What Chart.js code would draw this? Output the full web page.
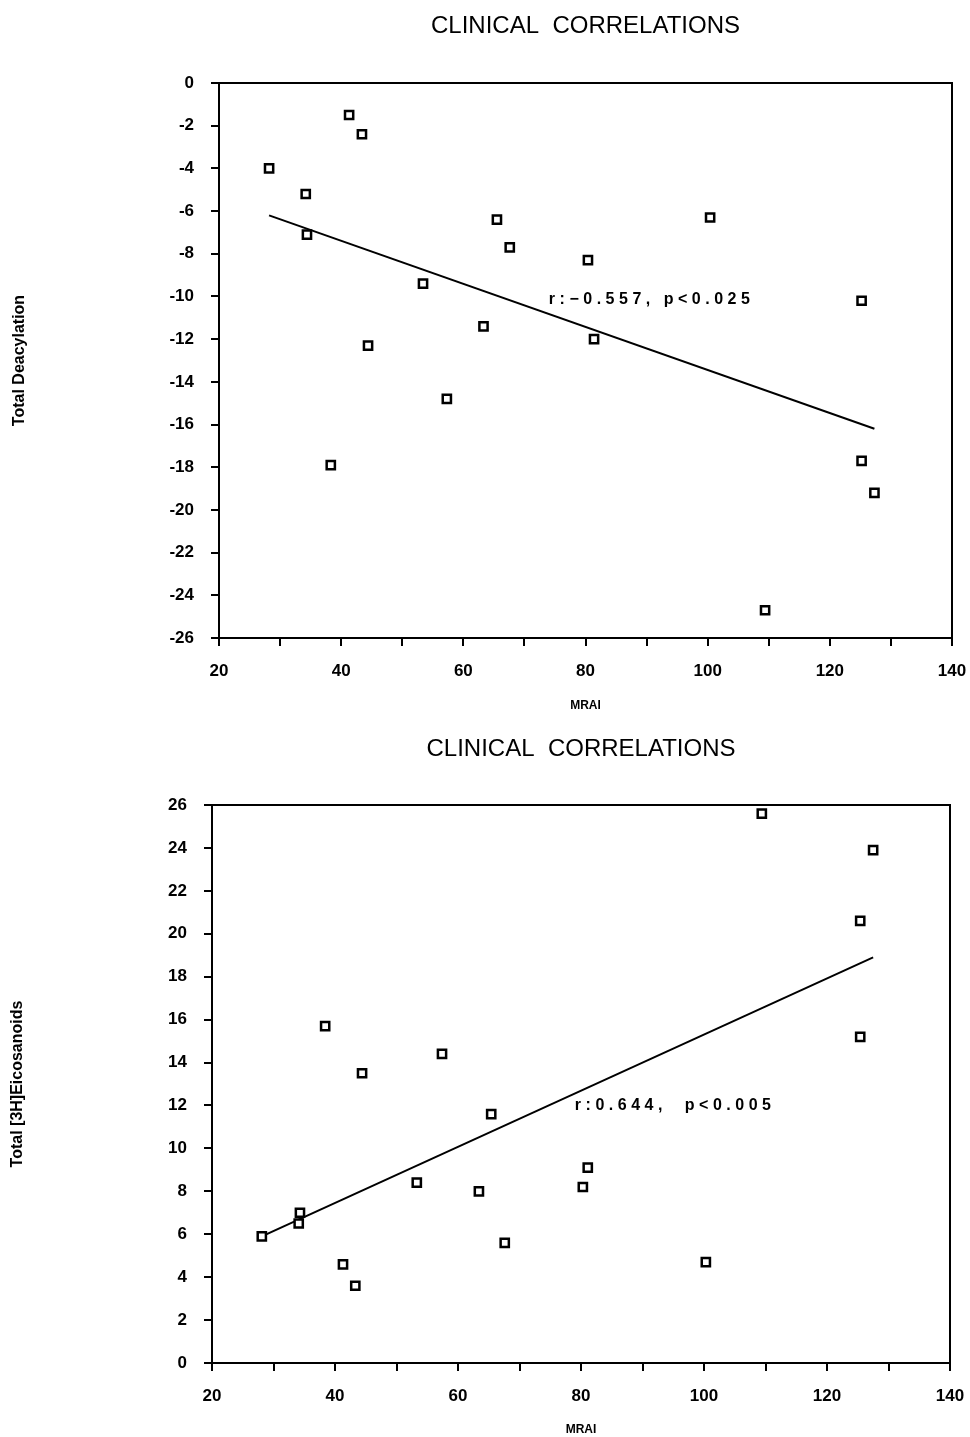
<!DOCTYPE html>
<html>
<head>
<meta charset="utf-8">
<title>Clinical correlations</title>
<script src="https://cdn.jsdelivr.net/npm/chart.js@4/dist/chart.umd.min.js"></script>
<style>
  body { margin: 0; background: #fff; }
  canvas { display: block; }
</style>
</head>
<body>
<canvas id="deac" width="970" height="720"></canvas>
<canvas id="eico" width="970" height="717"></canvas>
<script>
// MRAI vs total deacylation (top panel)
var deacMrai = [28.2, 41.3, 43.4, 34.2, 34.4, 38.3, 53.4, 44.4, 57.3, 63.3, 65.5, 67.6, 80.4, 81.4, 100.4, 125.2, 125.2, 127.3, 109.4];
var deacVals = [-4.0, -1.5, -2.4, -5.2, -7.1, -17.9, -9.4, -12.3, -14.8, -11.4, -6.4, -7.7, -8.3, -12.0, -6.3, -10.2, -17.7, -19.2, -24.7];
var deacFitX = [28.2, 127.3];
var deacFitY = [-6.2, -16.2];

// MRAI vs total [3H]eicosanoids (bottom panel)
var eicoMrai = [28.1, 34.3, 34.1, 38.4, 41.3, 43.3, 44.4, 53.3, 57.4, 63.4, 65.4, 67.6, 80.3, 81.1, 100.3, 109.4, 125.4, 125.4, 127.5];
var eicoVals = [5.9, 7.0, 6.5, 15.7, 4.6, 3.6, 13.5, 8.4, 14.4, 8.0, 11.6, 5.6, 8.2, 9.1, 4.7, 25.6, 20.6, 15.2, 23.9];
var eicoFitX = [28.1, 127.5];
var eicoFitY = [5.9, 18.9];

var xTicks = [20, 40, 60, 80, 100, 120, 140];

var FONT = '"Liberation Sans", Arial, Helvetica, sans-serif';

function toPoints(xs, ys) {
  var out = [];
  for (var i = 0; i < xs.length; i++) out.push({ x: xs[i], y: ys[i] });
  return out;
}

// frame box, panel title and r/p note
var decorPlugin = {
  id: 'decor',
  afterDraw: function(chart, args, opts) {
    var ctx = chart.ctx, a = chart.chartArea;
    ctx.save();
    ctx.strokeStyle = '#000';
    ctx.lineWidth = 2;
    ctx.strokeRect(a.left, a.top, a.right - a.left, a.bottom - a.top);

    ctx.fillStyle = '#000';
    ctx.textBaseline = 'middle';
    ctx.textAlign = 'center';
    ctx.font = '24px ' + FONT;
    ctx.fillText(opts.title, (a.left + a.right) / 2, opts.titleY);

    ctx.textAlign = 'left';
    ctx.font = 'bold 16px ' + FONT;
    ctx.letterSpacing = '4.5px';
    ctx.fillText(opts.note,
      chart.scales.x.getPixelForValue(opts.noteAt[0]),
      chart.scales.y.getPixelForValue(opts.noteAt[1]));
    ctx.restore();
  }
};

function buildChart(id, c) {
  var ctx = document.getElementById(id).getContext('2d');
  return new Chart(ctx, {
    type: 'scatter',
    data: {
      datasets: [
        {
          data: toPoints(c.xs, c.ys),
          pointStyle: 'rect',
          pointRadius: 5.8,
          pointBorderWidth: 2.5,
          pointBorderColor: '#000',
          pointBackgroundColor: '#fff',
          showLine: false,
          order: 0
        },
        {
          data: toPoints(c.fitX, c.fitY),
          showLine: true,
          borderColor: '#000',
          borderWidth: 2,
          pointRadius: 0,
          order: 1
        }
      ]
    },
    options: {
      responsive: false,
      animation: false,
      layout: { padding: { left: 0, top: c.top, right: c.right, bottom: 0 } },
      plugins: {
        legend: { display: false },
        tooltip: { enabled: false },
        decor: { title: 'CLINICAL  CORRELATIONS', titleY: c.titleY, note: c.note, noteAt: c.noteAt }
      },
      scales: {
        x: {
          type: 'linear',
          min: 20, max: 140,
          afterFit: function(s) {
            s.height = c.xHeight;
            // let the layout padding alone decide the right edge
            s.paddingLeft = 0;
            s.paddingRight = 0;
          },
          ticks: {
            stepSize: 10,
            autoSkip: false,
            maxRotation: 0,
            padding: 15,
            color: '#000',
            font: { family: FONT, size: 17, weight: 'bold' },
            callback: function(v) { return xTicks.indexOf(v) >= 0 ? String(v) : ''; }
          },
          grid: { drawOnChartArea: false, drawTicks: true, tickLength: 8, color: '#000', lineWidth: 2 },
          border: { display: true, color: '#000', width: 2 },
          title: {
            display: true, text: 'MRAI', color: '#000',
            font: { family: FONT, size: 12, weight: 'bold' },
            padding: { top: 0, bottom: c.xTitlePad }
          }
        },
        y: {
          type: 'linear',
          min: c.yMin, max: c.yMax,
          afterFit: function(s) { s.width = c.yWidth; },
          ticks: {
            stepSize: 2,
            padding: 17,
            color: '#000',
            font: { family: FONT, size: 17, weight: 'bold' }
          },
          grid: { drawOnChartArea: false, drawTicks: true, tickLength: 8, color: '#000', lineWidth: 2 },
          border: { display: true, color: '#000', width: 2 },
          title: {
            display: true, text: c.yTitle, color: '#000',
            font: { family: FONT, size: 16, weight: 'bold' },
            padding: { top: c.yTitlePad, bottom: 0 }
          }
        }
      }
    },
    plugins: [decorPlugin]
  });
}

buildChart('deac', {
  xs: deacMrai, ys: deacVals, fitX: deacFitX, fitY: deacFitY,
  yMin: -26, yMax: 0, yTitle: 'Total Deacylation',
  top: 83, right: 18, yWidth: 219, xHeight: 82,
  xTitlePad: 7, yTitlePad: 10, titleY: 26,
  note: 'r:\u22120.557, p<0.025', noteAt: [74, -10.15]
});

buildChart('eico', {
  xs: eicoMrai, ys: eicoVals, fitX: eicoFitX, fitY: eicoFitY,
  yMin: 0, yMax: 26, yTitle: 'Total [3H]Eicosanoids',
  top: 85, right: 20, yWidth: 212, xHeight: 74,
  xTitlePad: 0, yTitlePad: 8, titleY: 29,
  note: 'r:0.644,  p<0.005', noteAt: [79, 12.0]
});
</script>
</body>
</html>
